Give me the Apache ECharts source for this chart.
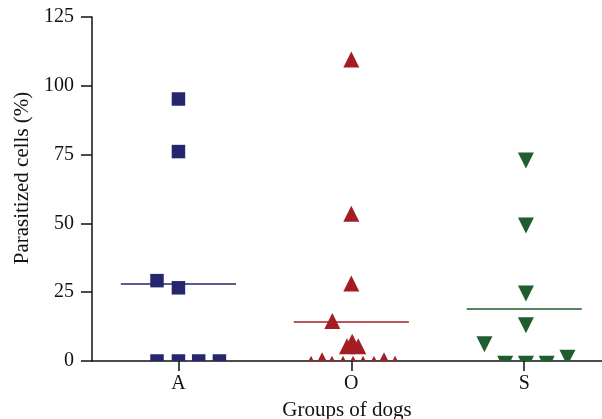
<!DOCTYPE html>
<html>
<head>
<meta charset="utf-8">
<script src="https://cdn.jsdelivr.net/npm/echarts@6/dist/echarts.min.js"></script>
<style>
  html, body { margin: 0; padding: 0; background: #fff; }
  #chart { width: 602px; height: 419px; }
</style>
</head>
<body>
<div id="chart"></div>
<script>
// groups of dogs
var groups = ['A', 'O', 'S'];
var yTicks = [0, 25, 50, 75, 100, 125];

// parasitized cells (%) per dog, x = group position with jitter
var groupA_x = [1.0, 1.0, 0.876, 1.0, 0.876, 1.0, 1.117, 1.237];
var groupA_y = [95.2, 76.1, 29.2, 26.6, 0, 0, 0, 0];

var groupO_x = [2.0, 2.0, 2.0, 1.89, 1.975, 2.005, 2.04, 1.767, 1.831, 1.888, 1.952, 2.01, 2.068, 2.131, 2.189, 2.253];
var groupO_y = [109.6, 53.5, 28.2, 14.5, 5.4, 7.0, 5.4, -1, 0.3, -1, -1, -1, -1, -1, 0.3, -1];

var groupS_x = [3.01, 3.01, 3.01, 3.01, 2.77, 2.89, 3.01, 3.13, 3.25];
var groupS_y = [72.9, 49.2, 24.5, 13.0, 6.1, -1, -1, -1, 1.2];

// group means (horizontal bars)
var mean_x = [1, 2, 3];
var mean_y = [28.0, 14.2, 18.9];

var colors = ['#26266f', '#a41d22', '#1f5d2e'];

function pairs(xs, ys) {
    var out = [];
    for (var i = 0; i < xs.length; i++) out.push([xs[i], ys[i]]);
    return out;
}

function symbolRender(shape, color, size) {
    return function (params, api) {
        var p = api.coord([api.value(0), api.value(1)]);
        var h = size / 2;
        if (shape === 'square') {
            return {type: 'rect', shape: {x: p[0] - h, y: p[1] - h, width: size, height: size}, style: {fill: color}};
        }
        var pts;
        if (shape === 'up') {
            pts = [[p[0], p[1] - h], [p[0] + h, p[1] + h], [p[0] - h, p[1] + h]];
        } else {
            pts = [[p[0] - h, p[1] - h], [p[0] + h, p[1] - h], [p[0], p[1] + h]];
        }
        return {type: 'polygon', shape: {points: pts}, style: {fill: color}};
    };
}

var chart = echarts.init(document.getElementById('chart'));
var fontFam = 'Liberation Serif';

option = {
    animation: false,
    grid: {left: 92, right: 0, top: 17, bottom: 58, containLabel: false, outerBoundsMode: 'none'},
    xAxis: {
        type: 'value',
        min: 0.5,
        max: 3.45,
        name: 'Groups of dogs',
        nameLocation: 'middle',
        nameGap: 39,
        nameTextStyle: {fontFamily: fontFam, fontSize: 21, color: '#111'},
        splitLine: {show: false},
        axisLine: {lineStyle: {color: '#111', width: 1.5}},
        axisTick: {customValues: [1, 2, 3], length: 10, lineStyle: {color: '#111', width: 1.5}},
        axisLabel: {
            customValues: [1, 2, 3],
            margin: 13,
            fontFamily: fontFam, fontSize: 20, color: '#111',
            formatter: function (v) { return groups[Math.round(v) - 1]; }
        }
    },
    yAxis: {
        type: 'value',
        min: 0,
        max: 125,
        interval: 25,
        name: 'Parasitized cells (%)',
        nameLocation: 'middle',
        nameGap: 59,
        nameTextStyle: {fontFamily: fontFam, fontSize: 21, color: '#111', padding: [0, 0, 0, 22]},
        splitLine: {show: false},
        axisLine: {show: true, lineStyle: {color: '#111', width: 1.5}},
        axisTick: {length: 11, lineStyle: {color: '#111', width: 1.5}},
        axisLabel: {margin: 18, fontFamily: fontFam, fontSize: 20, color: '#111'}
    },
    series: [
        {type: 'custom', clip: true, data: pairs(groupA_x, groupA_y), renderItem: symbolRender('square', colors[0], 13.5)},
        {type: 'custom', clip: true, data: pairs(groupO_x, groupO_y), renderItem: symbolRender('up', colors[1], 16)},
        {type: 'custom', clip: true, data: pairs(groupS_x, groupS_y), renderItem: symbolRender('down', colors[2], 16)},
        {
            type: 'custom',
            clip: true,
            data: pairs(mean_x, mean_y),
            renderItem: function (params, api) {
                var a = api.coord([api.value(0) - 0.333, api.value(1)]);
                var b = api.coord([api.value(0) + 0.333, api.value(1)]);
                return {
                    type: 'line',
                    shape: {x1: a[0], y1: a[1], x2: b[0], y2: b[1]},
                    style: {stroke: colors[params.dataIndex], lineWidth: 1.5}
                };
            }
        }
    ]
};

chart.setOption(option);
</script>
</body>
</html>
